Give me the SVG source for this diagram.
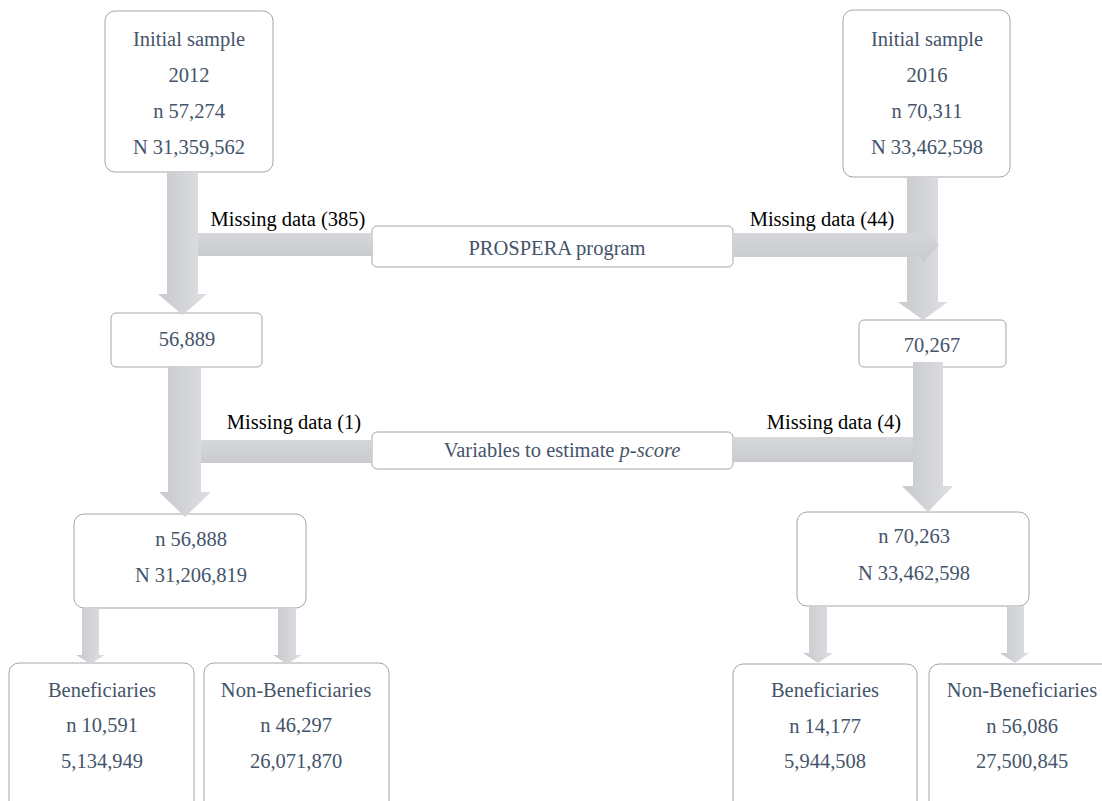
<svg xmlns="http://www.w3.org/2000/svg" width="1102" height="801" viewBox="0 0 1102 801">
<defs>
<linearGradient id="gv" x1="0" y1="0" x2="1" y2="0">
<stop offset="0" stop-color="#C8C9CD"/>
<stop offset="1" stop-color="#DEDFE2"/>
</linearGradient>
<linearGradient id="gh" x1="0" y1="0" x2="0" y2="1">
<stop offset="0" stop-color="#D6D7DA"/>
<stop offset="1" stop-color="#CACBCF"/>
</linearGradient>
</defs>
<style>
.box{fill:#FFFFFF;stroke:#A5A5A5;stroke-width:1}
.t{font-family:"Liberation Serif","Times New Roman",serif;font-size:20.5px;fill:#44546A;text-anchor:middle}
.lab{font-family:"Liberation Serif","Times New Roman",serif;font-size:20.5px;fill:#000000;text-anchor:middle}
.av{fill:url(#gv)}
.ah{fill:url(#gh)}
</style>
<rect width="1102" height="801" fill="#FFFFFF"/>

<g id="init2012">
<rect class="box" x="105" y="11" width="168" height="161" rx="10"/>
<text class="t" x="189" y="46">Initial sample</text>
<text class="t" x="189" y="82">2012</text>
<text class="t" x="189" y="118">n 57,274</text>
<text class="t" x="189" y="154">N 31,359,562</text>
</g>

<g id="init2016">
<rect class="box" x="843" y="10" width="167" height="167" rx="10"/>
<text class="t" x="927" y="46">Initial sample</text>
<text class="t" x="927" y="82">2016</text>
<text class="t" x="927" y="118">n 70,311</text>
<text class="t" x="927" y="154">N 33,462,598</text>
</g>

<g id="prospera">
<rect class="box" x="372" y="226" width="361" height="41" rx="5"/>
<text class="t" x="557" y="255">PROSPERA program</text>
</g>

<g id="n56889">
<rect class="box" x="111" y="313" width="151" height="54" rx="5"/>
<text class="t" x="187" y="346">56,889</text>
</g>

<g id="n70267">
<rect class="box" x="859" y="320" width="147" height="47" rx="5"/>
<text class="t" x="932" y="352">70,267</text>
</g>

<g id="pscore">
<rect class="box" x="372" y="432" width="361" height="37" rx="5"/>
<text class="t" x="562" y="457">Variables to estimate <tspan font-style="italic">p-score</tspan></text>
</g>

<g id="sample2012">
<rect class="box" x="74" y="514" width="232" height="94" rx="10"/>
<text class="t" x="191" y="546">n 56,888</text>
<text class="t" x="191" y="582">N 31,206,819</text>
</g>

<g id="sample2016">
<rect class="box" x="797" y="512" width="232" height="94" rx="10"/>
<text class="t" x="914" y="543">n 70,263</text>
<text class="t" x="914" y="580">N 33,462,598</text>
</g>

<g id="ben2012">
<rect class="box" x="9" y="663" width="185" height="160" rx="10"/>
<text class="t" x="102" y="697">Beneficiaries</text>
<text class="t" x="102" y="732">n 10,591</text>
<text class="t" x="102" y="768">5,134,949</text>
</g>

<g id="nonben2012">
<rect class="box" x="204" y="663" width="185" height="160" rx="10"/>
<text class="t" x="296" y="697">Non-Beneficiaries</text>
<text class="t" x="296" y="732">n 46,297</text>
<text class="t" x="296" y="768">26,071,870</text>
</g>

<g id="ben2016">
<rect class="box" x="733" y="664" width="184" height="160" rx="10"/>
<text class="t" x="825" y="697">Beneficiaries</text>
<text class="t" x="825" y="733">n 14,177</text>
<text class="t" x="825" y="768">5,944,508</text>
</g>

<g id="nonben2016">
<rect class="box" x="929" y="664" width="185" height="160" rx="10"/>
<text class="t" x="1022" y="697">Non-Beneficiaries</text>
<text class="t" x="1022" y="733">n 56,086</text>
<text class="t" x="1022" y="768">27,500,845</text>
</g>

<g id="connectors">
<path class="av" d="M167,172 H198 V294 H207 L182.5,315 L158,294 H167 Z"/>
<rect class="ah" x="198" y="233" width="175" height="23"/>
<path class="av" d="M168,367 H201 V492 H211 L185,517 L159,492 H168 Z"/>
<rect class="ah" x="201" y="440" width="171" height="23"/>
<path class="av" d="M907,177 H938 V302 H948 L923,320 L898,302 H907 Z"/>
<path class="ah" d="M733,233 H922 V227 L939,245 L922,263 V257 H733 Z"/>
<rect class="ah" x="733" y="437" width="180" height="25"/>
<path class="av" d="M913,362 H943 V486 H953 L928,512 L902,486 H913 Z"/>
<path class="av" d="M82,608 H99 V655 H105 L90.5,664 L76,655 H82 Z"/>
<path class="av" d="M278,608 H296 V655 H302 L287,664 L273,655 H278 Z"/>
<path class="av" d="M809,606 H827 V653 H833 L818,663 L803,653 H809 Z"/>
<path class="av" d="M1007,606 H1024 V653 H1029 L1015,663 L1000,653 H1007 Z"/>
</g>

<g id="labels">
<text class="lab" x="288" y="226">Missing data (385)</text>
<text class="lab" x="822" y="226">Missing data (44)</text>
<text class="lab" x="294" y="429">Missing data (1)</text>
<text class="lab" x="834" y="429">Missing data (4)</text>
</g>
</svg>
